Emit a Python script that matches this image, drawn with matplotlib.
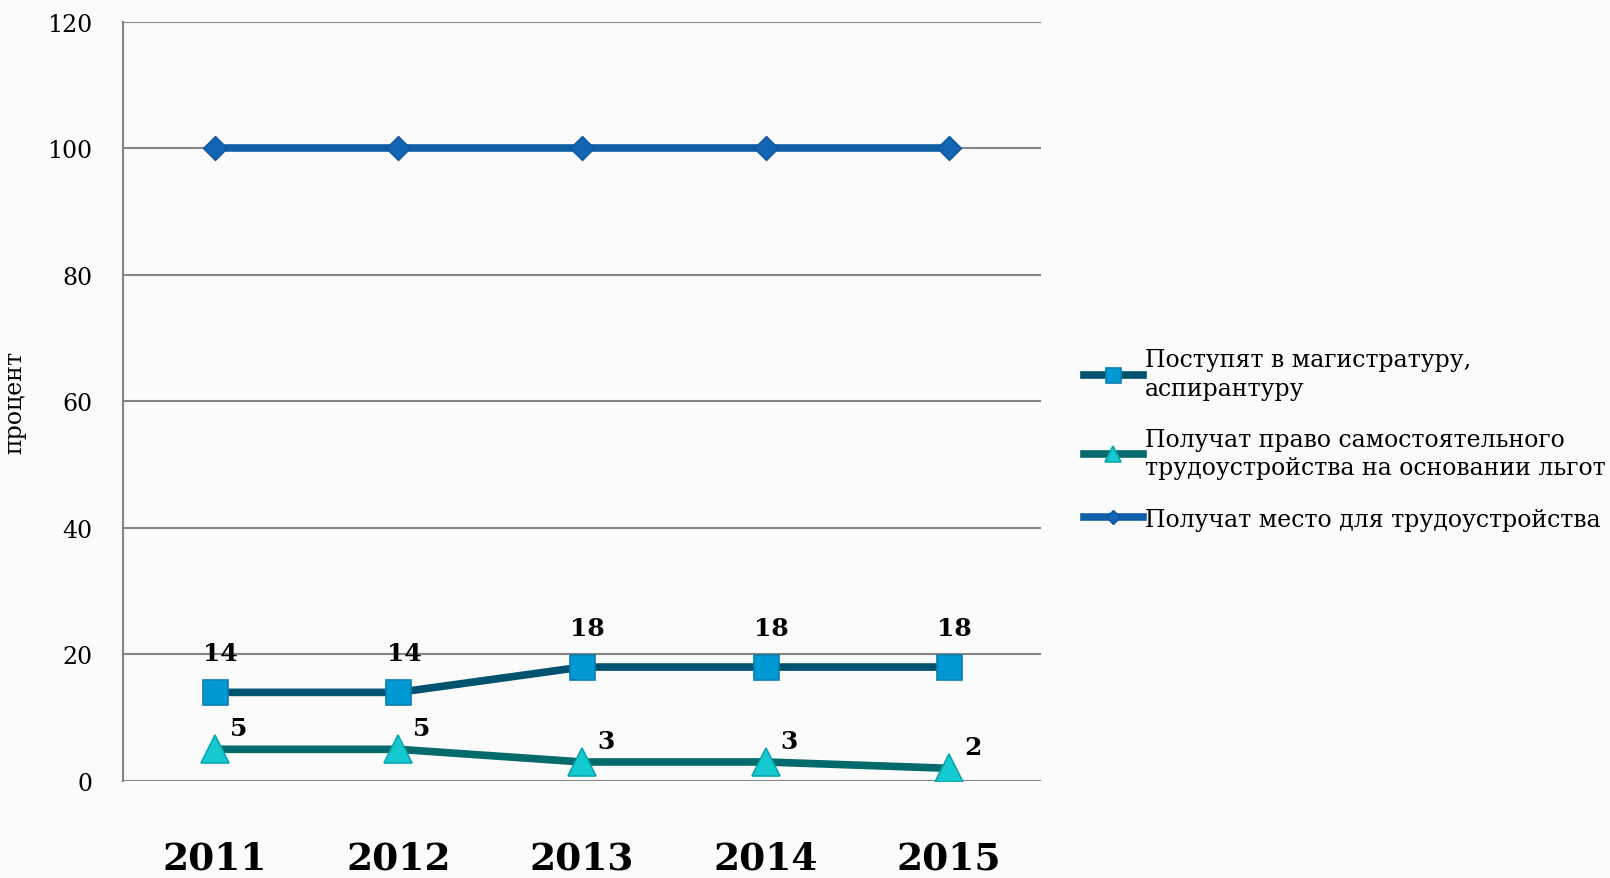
import numpy as np
import matplotlib.pyplot as plt

plt.rcParams['font.family'] = ['DejaVu Serif']

years = ['2011', '2012', '2013', '2014', '2015']
magistr = [14, 14, 18, 18, 18]
lgoty = [5, 5, 3, 3, 2]
mesto = [100, 100, 100, 100, 100]

lbl_magistr = 'Поступят в магистратуру,\nаспирантуру'
lbl_lgoty = 'Получат право самостоятельного\nтрудоустройства на основании льгот'
lbl_mesto = 'Получат место для трудоустройства'

bg = '#fbfbfb'
fig = plt.figure(figsize=(16.1, 8.79), dpi=100, facecolor=bg)
ax = fig.add_axes([0.0764, 0.1104, 0.5702, 0.8639], facecolor=bg)

x = np.arange(len(years))

l1, = ax.plot(x, magistr, color='#00536f', lw=5.5, marker='s', ms=18,
              mfc='#0099d4', mec='#0a7fb0', mew=1.2, label=lbl_magistr, zorder=3)
l2, = ax.plot(x, lgoty, color='#056a6c', lw=5.5, marker='^', ms=20,
              mfc='#14c9d0', mec='#0aa6ad', mew=1.2, label=lbl_lgoty, zorder=3)
l3, = ax.plot(x, mesto, color='#1060a8', lw=5.5, marker='D', ms=12,
              mfc='#1464b4', mec='#0d559c', mew=1, label=lbl_mesto, zorder=3)

# data labels
for xi, v in zip(x, magistr):
    ax.annotate(str(v), (xi, v), xytext=(4, 28), textcoords='offset points',
                ha='center', va='center', fontsize=18, fontweight='bold')
for xi, v in zip(x, lgoty):
    ax.annotate(str(v), (xi, v), xytext=(17, 15), textcoords='offset points',
                ha='center', va='center', fontsize=18, fontweight='bold')

ax.set_xlim(-0.5, 4.5)
ax.set_ylim(0, 120)
ax.set_yticks(np.arange(0, 121, 20))
ax.set_xticks(x)
ax.set_xticklabels(years, fontsize=27, fontweight='bold')
ax.tick_params(axis='y', labelsize=17, length=0, pad=22)
ax.tick_params(axis='x', length=0, pad=42)
ax.grid(axis='y', color='#858585', lw=1.5)
ax.set_axisbelow(True)
for s in ['top', 'right', 'bottom']:
    ax.spines[s].set_visible(False)
ax.spines['left'].set_color('#858585')
ax.spines['left'].set_linewidth(1.5)

ax.set_ylabel('процент', fontsize=17)
ax.yaxis.set_label_coords(-0.105, 0.5)

leg = fig.legend(handles=[l1, l2, l3], loc='upper left', bbox_to_anchor=(0.66, 0.627),
                 frameon=False, fontsize=17, handlelength=2.5, handletextpad=0.1,
                 labelspacing=1.2, markerscale=0.6)
for t in leg.get_texts():
    t.set_linespacing(1.3)

fig.savefig('out.png', dpi=100, facecolor=bg)
